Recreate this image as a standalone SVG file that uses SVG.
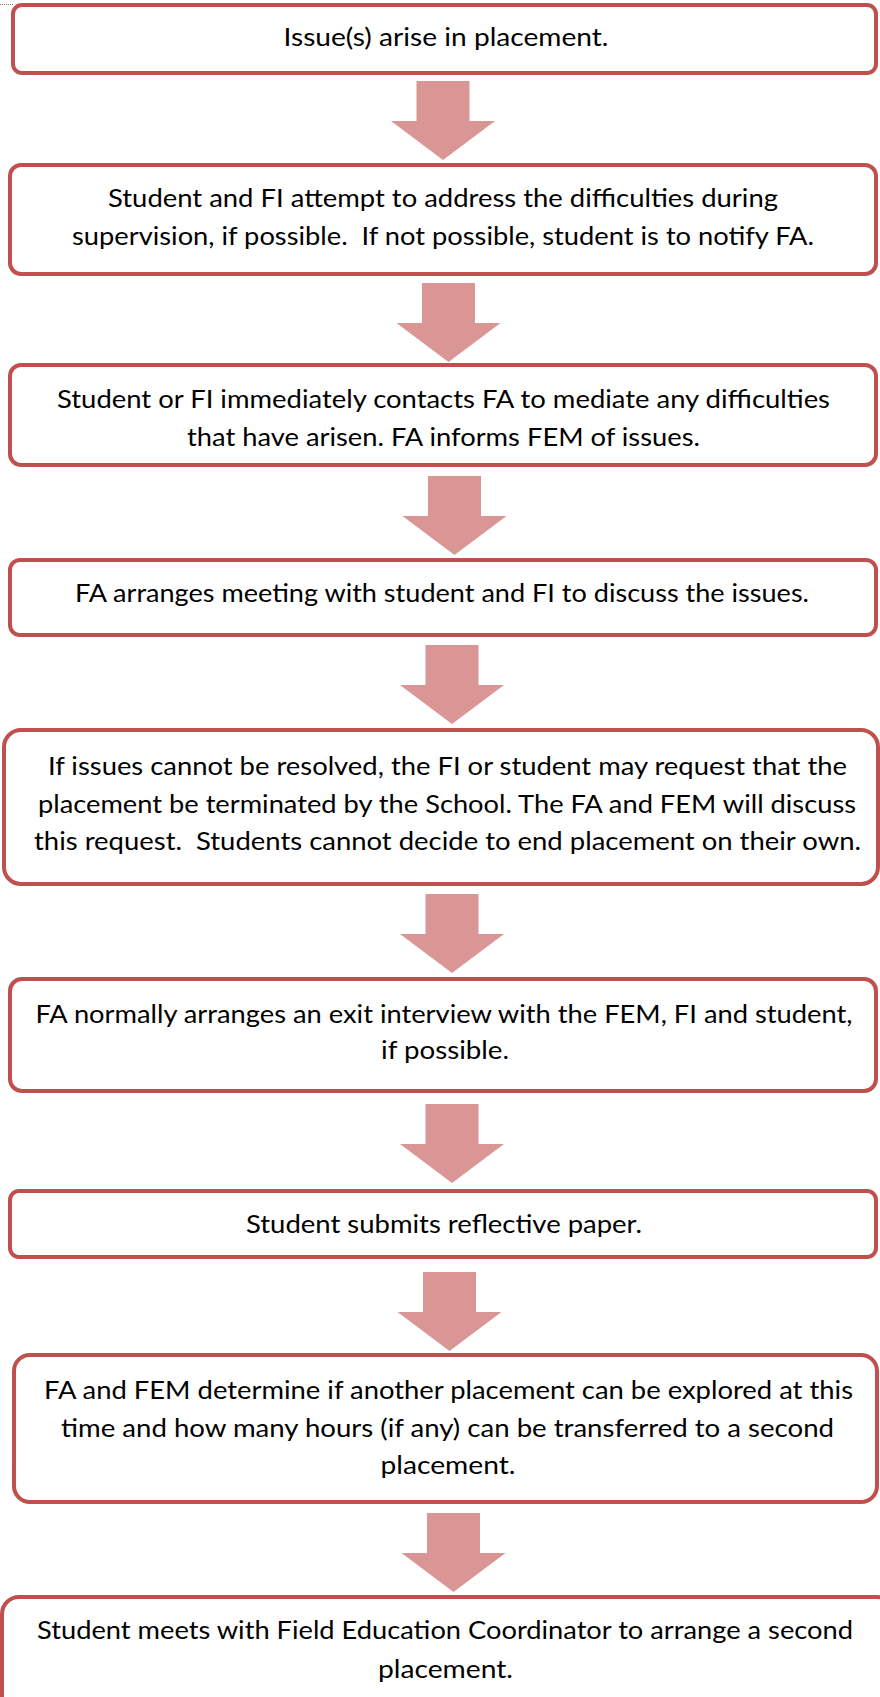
<svg xmlns="http://www.w3.org/2000/svg" xmlns:xlink="http://www.w3.org/1999/xlink" width="880" height="1697" viewBox="0 0 880 1697">
  <style>
    .box { fill: #FFFFFF; stroke: #C0504D; stroke-width: 4; }
    .arrow { fill: #D99694; }
    .label { font-family: Lato, "Open Sans", "Liberation Sans", sans-serif; font-size: 24.5px; fill: #000000; text-anchor: middle; }
  </style>
  <defs>
    <!-- block arrow, origin at top centre of the shaft -->
    <polygon id="down-arrow" class="arrow" points="-26.5,0 26.5,0 26.5,40 52,40 0,79 -52,40 -26.5,40"/>
  </defs>

  <rect width="880" height="1697" fill="#FFFFFF"/>
  <line x1="0" y1="4.5" x2="14" y2="4.5" stroke="#A0705A" stroke-width="1" stroke-dasharray="1 1"/>

  <g id="connectors">
    <use xlink:href="#down-arrow" href="#down-arrow" x="443" y="81"/>
    <use xlink:href="#down-arrow" href="#down-arrow" x="448.5" y="283"/>
    <use xlink:href="#down-arrow" href="#down-arrow" x="454.5" y="476"/>
    <use xlink:href="#down-arrow" href="#down-arrow" x="452" y="645"/>
    <use xlink:href="#down-arrow" href="#down-arrow" x="452" y="894"/>
    <use xlink:href="#down-arrow" href="#down-arrow" x="452" y="1104"/>
    <use xlink:href="#down-arrow" href="#down-arrow" x="449.5" y="1272"/>
    <use xlink:href="#down-arrow" href="#down-arrow" x="453.5" y="1513"/>
  </g>

  <g id="step1">
    <rect class="box" x="13" y="5" width="863" height="68" rx="9"/>
    <text class="label" x="446" y="46" textLength="325" lengthAdjust="spacingAndGlyphs">Issue(s) arise in placement.</text>
  </g>

  <g id="step2">
    <rect class="box" x="10" y="165" width="866" height="109" rx="11"/>
    <text class="label" x="443" y="207" textLength="670" lengthAdjust="spacingAndGlyphs">Student and FI attempt to address the difficulties during</text>
    <text class="label" x="443" y="244.5" textLength="742" lengthAdjust="spacingAndGlyphs" xml:space="preserve">supervision, if possible.  If not possible, student is to notify FA.</text>
  </g>

  <g id="step3">
    <rect class="box" x="10" y="365" width="866" height="100" rx="11"/>
    <text class="label" x="443.5" y="407.5" textLength="773" lengthAdjust="spacingAndGlyphs">Student or FI immediately contacts FA to mediate any difficulties</text>
    <text class="label" x="443.5" y="445.5" textLength="513" lengthAdjust="spacingAndGlyphs">that have arisen. FA informs FEM of issues.</text>
  </g>

  <g id="step4">
    <rect class="box" x="10" y="560" width="866" height="75" rx="10"/>
    <text class="label" x="442" y="601.5" textLength="734" lengthAdjust="spacingAndGlyphs">FA arranges meeting with student and FI to discuss the issues.</text>
  </g>

  <g id="step5">
    <rect class="box" x="4" y="730" width="874" height="154" rx="17"/>
    <text class="label" x="447.5" y="774.5" textLength="799" lengthAdjust="spacingAndGlyphs">If issues cannot be resolved, the FI or student may request that the</text>
    <text class="label" x="447" y="812.5" textLength="818" lengthAdjust="spacingAndGlyphs">placement be terminated by the School. The FA and FEM will discuss</text>
    <text class="label" x="447.5" y="849.5" textLength="827" lengthAdjust="spacingAndGlyphs" xml:space="preserve">this request.  Students cannot decide to end placement on their own.</text>
  </g>

  <g id="step6">
    <rect class="box" x="10" y="979" width="866" height="112" rx="12"/>
    <text class="label" x="444" y="1022.5" textLength="817" lengthAdjust="spacingAndGlyphs">FA normally arranges an exit interview with the FEM, FI and student,</text>
    <text class="label" x="445" y="1058.5" textLength="128" lengthAdjust="spacingAndGlyphs">if possible.</text>
  </g>

  <g id="step7">
    <rect class="box" x="10" y="1191" width="866" height="66" rx="9"/>
    <text class="label" x="444" y="1232.5" textLength="396" lengthAdjust="spacingAndGlyphs">Student submits reflective paper.</text>
  </g>

  <g id="step8">
    <rect class="box" x="14" y="1355" width="863" height="147" rx="16"/>
    <text class="label" x="448.5" y="1398.5" textLength="809" lengthAdjust="spacingAndGlyphs">FA and FEM determine if another placement can be explored at this</text>
    <text class="label" x="447.5" y="1436.5" textLength="773" lengthAdjust="spacingAndGlyphs">time and how many hours (if any) can be transferred to a second</text>
    <text class="label" x="448" y="1473.5" textLength="135" lengthAdjust="spacingAndGlyphs">placement.</text>
  </g>

  <g id="step9">
    <rect class="box" x="2" y="1597" width="892" height="140" rx="17"/>
    <text class="label" x="445" y="1638.5" textLength="816" lengthAdjust="spacingAndGlyphs">Student meets with Field Education Coordinator to arrange a second</text>
    <text class="label" x="445.5" y="1677.5" textLength="135" lengthAdjust="spacingAndGlyphs">placement.</text>
  </g>
</svg>
